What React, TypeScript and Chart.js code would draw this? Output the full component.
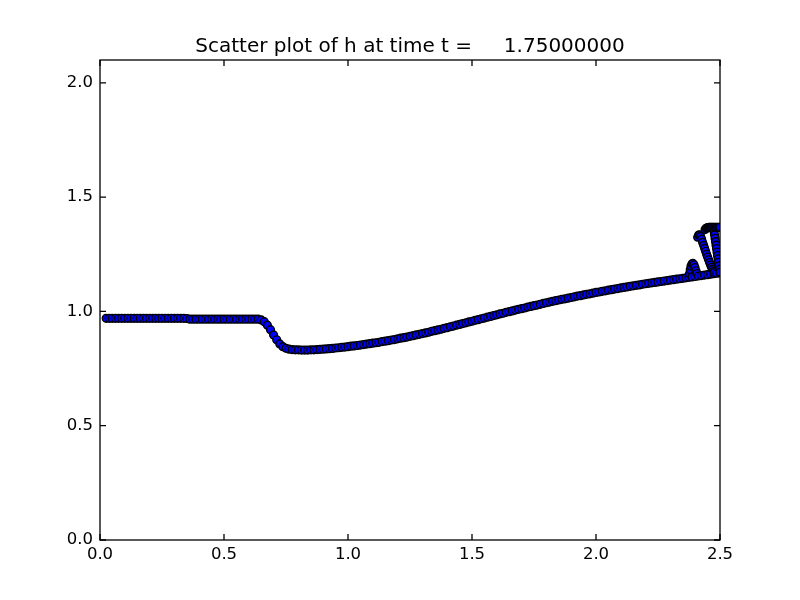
import React, { useEffect, useRef } from "react";
import { Chart, registerables } from "chart.js";

Chart.register(...registerables);

const TITLE = "Scatter plot of h at time t =     1.75000000";
const X_TICKS = [0.0, 0.5, 1.0, 1.5, 2.0, 2.5];
const Y_TICKS = [0.0, 0.5, 1.0, 1.5, 2.0];
const X_RANGE = [0, 2.5];
const Y_RANGE = [0, 2.1];

// main solution curve
const xMain = [
  0.025, 0.0375, 0.05, 0.0625, 0.075, 0.0875, 0.1, 0.1125, 0.125, 0.1375,
  0.15, 0.1625, 0.175, 0.1875, 0.2, 0.2125, 0.225, 0.2375, 0.25, 0.2625,
  0.275, 0.2875, 0.3, 0.3125, 0.325, 0.3375, 0.35, 0.3625, 0.375, 0.3875,
  0.4, 0.4125, 0.425, 0.4375, 0.45, 0.4625, 0.475, 0.4875, 0.5, 0.5125,
  0.525, 0.5375, 0.55, 0.5625, 0.575, 0.5875, 0.6, 0.6125, 0.625, 0.6375,
  0.65, 0.6625, 0.675, 0.6875, 0.7, 0.7125, 0.725, 0.7375, 0.75, 0.7625,
  0.775, 0.7875, 0.8, 0.8125, 0.825, 0.8375, 0.85, 0.8625, 0.875, 0.8875,
  0.9, 0.9125, 0.925, 0.9375, 0.95, 0.9625, 0.975, 0.9875, 1.0, 1.0125,
  1.025, 1.0375, 1.05, 1.0625, 1.075, 1.0875, 1.1, 1.1125, 1.125, 1.1375,
  1.15, 1.1625, 1.175, 1.1875, 1.2, 1.2125, 1.225, 1.2375, 1.25, 1.2625,
  1.275, 1.2875, 1.3, 1.3125, 1.325, 1.3375, 1.35, 1.3625, 1.375, 1.3875,
  1.4, 1.4125, 1.425, 1.4375, 1.45, 1.4625, 1.475, 1.4875, 1.5, 1.5125,
  1.525, 1.5375, 1.55, 1.5625, 1.575, 1.5875, 1.6, 1.6125, 1.625, 1.6375,
  1.65, 1.6625, 1.675, 1.6875, 1.7, 1.7125, 1.725, 1.7375, 1.75, 1.7625,
  1.775, 1.7875, 1.8, 1.8125, 1.825, 1.8375, 1.85, 1.8625, 1.875, 1.8875,
  1.9, 1.9125, 1.925, 1.9375, 1.95, 1.9625, 1.975, 1.9875, 2.0, 2.0125,
  2.025, 2.0375, 2.05, 2.0625, 2.075, 2.0875, 2.1, 2.1125, 2.125, 2.1375,
  2.15, 2.1625, 2.175, 2.1875, 2.2, 2.2125, 2.225, 2.2375, 2.25, 2.2625,
  2.275, 2.2875, 2.3, 2.3125, 2.325, 2.3375, 2.35, 2.3625, 2.375, 2.3875,
  2.4, 2.4125, 2.425, 2.4375, 2.45, 2.4625, 2.475, 2.4875, 2.5,
];
const hMain = [
  0.970, 0.970, 0.970, 0.970, 0.970, 0.970, 0.970, 0.970, 0.970, 0.970,
  0.970, 0.970, 0.970, 0.970, 0.970, 0.970, 0.970, 0.970, 0.970, 0.970,
  0.970, 0.970, 0.970, 0.970, 0.970, 0.970, 0.969, 0.966, 0.966, 0.966,
  0.966, 0.966, 0.966, 0.966, 0.966, 0.966, 0.966, 0.966, 0.966, 0.966,
  0.966, 0.966, 0.966, 0.966, 0.966, 0.966, 0.966, 0.966, 0.966, 0.966,
  0.963, 0.955, 0.940, 0.920, 0.897, 0.876, 0.858, 0.846, 0.839, 0.835,
  0.833, 0.832, 0.832, 0.831, 0.831, 0.831, 0.832, 0.832, 0.833, 0.834,
  0.835, 0.836, 0.837, 0.838, 0.840, 0.841, 0.843, 0.844, 0.846, 0.848,
  0.849, 0.851, 0.853, 0.855, 0.857, 0.859, 0.861, 0.863, 0.865, 0.868,
  0.870, 0.872, 0.875, 0.877, 0.880, 0.883, 0.885, 0.888, 0.891, 0.894,
  0.897, 0.900, 0.903, 0.906, 0.909, 0.913, 0.916, 0.919, 0.922, 0.926,
  0.929, 0.933, 0.936, 0.940, 0.943, 0.947, 0.950, 0.954, 0.957, 0.961,
  0.964, 0.968, 0.971, 0.975, 0.978, 0.982, 0.985, 0.989, 0.992, 0.996,
  0.999, 1.002, 1.006, 1.009, 1.012, 1.015, 1.019, 1.022, 1.025, 1.028,
  1.031, 1.035, 1.038, 1.041, 1.044, 1.047, 1.050, 1.053, 1.055, 1.058,
  1.061, 1.064, 1.067, 1.069, 1.072, 1.075, 1.077, 1.080, 1.083, 1.085,
  1.088, 1.090, 1.093, 1.095, 1.098, 1.100, 1.103, 1.105, 1.107, 1.110,
  1.112, 1.114, 1.116, 1.119, 1.121, 1.123, 1.125, 1.127, 1.129, 1.131,
  1.133, 1.135, 1.137, 1.139, 1.141, 1.143, 1.145, 1.147, 1.149, 1.151,
  1.153, 1.155, 1.157, 1.159, 1.161, 1.163, 1.165, 1.167, 1.169,
];

// small hook near x = 2.39
const xHook = [2.377, 2.380, 2.383, 2.387, 2.391, 2.395, 2.399, 2.403, 2.407];
const hHook = [1.165, 1.182, 1.198, 1.208, 1.210, 1.204, 1.192, 1.178, 1.166];

// middle oscillation band
const xBand = [
  2.410, 2.414, 2.418, 2.422, 2.426, 2.430, 2.434, 2.438, 2.442, 2.446,
  2.450, 2.454, 2.458, 2.462, 2.466, 2.470, 2.474, 2.478,
];
const hBand = [
  1.325, 1.334, 1.335, 1.328, 1.316, 1.302, 1.289, 1.276, 1.263, 1.250,
  1.238, 1.226, 1.214, 1.203, 1.193, 1.184, 1.176, 1.170,
];

// top plateau and right descending band
const xTop = [
  2.440, 2.444, 2.448, 2.452, 2.456, 2.460, 2.465, 2.470, 2.475, 2.480,
  2.485, 2.490, 2.495, 2.500,
];
const hTop = [
  1.358, 1.364, 1.366, 1.367, 1.368, 1.368, 1.368, 1.368, 1.368, 1.368,
  1.368, 1.368, 1.368, 1.368,
];
const xRight = [
  2.476, 2.478, 2.480, 2.482, 2.484, 2.486, 2.488, 2.490, 2.492, 2.494,
  2.496, 2.498, 2.500,
];
const hRight = [
  1.350, 1.335, 1.320, 1.305, 1.290, 1.275, 1.260, 1.245, 1.230, 1.215,
  1.200, 1.185, 1.172,
];

function buildPoints() {
  const pts: { x: number; y: number }[] = [];
  const add = (xs: number[], ys: number[]) => {
    for (let i = 0; i < xs.length; i++) pts.push({ x: xs[i], y: ys[i] });
  };
  add(xMain, hMain);
  add(xHook, hHook);
  add(xBand, hBand);
  add(xTop, hTop);
  add(xRight, hRight);
  pts.sort((a, b) => a.x - b.x);
  return pts;
}

const FONT = "'DejaVu Sans', sans-serif";

const framePlugin = {
  id: "mplFrame",
  afterDatasetsDraw(chart: any) {
    const { ctx, chartArea } = chart;
    const { left, right, top, bottom } = chartArea;
    const xs = chart.scales.x;
    const ys = chart.scales.y;
    const TL = 6;
    ctx.save();
    ctx.strokeStyle = "#000";
    ctx.lineWidth = 1.3;
    ctx.beginPath();
    for (const v of X_TICKS) {
      const p = xs.getPixelForValue(v);
      ctx.moveTo(p, bottom);
      ctx.lineTo(p, bottom - TL);
      ctx.moveTo(p, top);
      ctx.lineTo(p, top + TL);
    }
    for (const v of Y_TICKS) {
      const p = ys.getPixelForValue(v);
      ctx.moveTo(left, p);
      ctx.lineTo(left + TL, p);
      ctx.moveTo(right, p);
      ctx.lineTo(right - TL, p);
    }
    ctx.stroke();
    ctx.strokeRect(left, top, right - left, bottom - top);
    // title
    ctx.fillStyle = "#000";
    ctx.font = `20px ${FONT}`;
    ctx.textAlign = "center";
    ctx.textBaseline = "alphabetic";
    ctx.fillText(TITLE, (left + right) / 2, top - 8);
    ctx.restore();
  },
};

export default function App() {
  const ref = useRef<HTMLCanvasElement | null>(null);

  useEffect(() => {
    if (!ref.current) return;
    const chart = new Chart(ref.current, {
      type: "scatter",
      data: {
        datasets: [
          {
            data: buildPoints(),
            backgroundColor: "#0000ff",
            borderColor: "#000000",
            borderWidth: 1.4,
            pointRadius: 3.9,
            pointHoverRadius: 3.9,
            clip: 0,
          } as any,
        ],
      },
      options: {
        responsive: false,
        devicePixelRatio: 1,
        animation: false,
        events: [],
        layout: { padding: { top: 60, right: 80, left: 0, bottom: 0 } },
        plugins: {
          legend: { display: false },
          tooltip: { enabled: false },
          title: { display: false },
        },
        scales: {
          x: {
            type: "linear",
            position: "bottom",
            min: X_RANGE[0],
            max: X_RANGE[1],
            grid: { display: false, drawTicks: false },
            border: { display: false },
            ticks: {
              padding: 5,
              color: "#000",
              font: { family: FONT, size: 16.5 },
              autoSkip: false,
              maxRotation: 0,
              callback: (v: any) => Number(v).toFixed(1),
            },
            afterBuildTicks: (s: any) => {
              s.ticks = X_TICKS.map((v) => ({ value: v }));
            },
            afterFit: (s: any) => {
              s.height = 60;
            },
          },
          y: {
            type: "linear",
            position: "left",
            min: Y_RANGE[0],
            max: Y_RANGE[1],
            grid: { display: false, drawTicks: false },
            border: { display: false },
            ticks: {
              padding: 7,
              color: "#000",
              font: { family: FONT, size: 16.5 },
              autoSkip: false,
              callback: (v: any) => Number(v).toFixed(1),
            },
            afterBuildTicks: (s: any) => {
              s.ticks = Y_TICKS.map((v) => ({ value: v }));
            },
            afterFit: (s: any) => {
              s.width = 100;
            },
          },
        },
      },
      plugins: [framePlugin],
    });
    return () => chart.destroy();
  }, []);

  return (
    <div
      style={{
        position: "absolute",
        left: 0,
        top: 0,
        width: 800,
        height: 600,
        background: "#fff",
      }}
    >
      <canvas ref={ref} width={800} height={600} style={{ display: "block" }} />
    </div>
  );
}
